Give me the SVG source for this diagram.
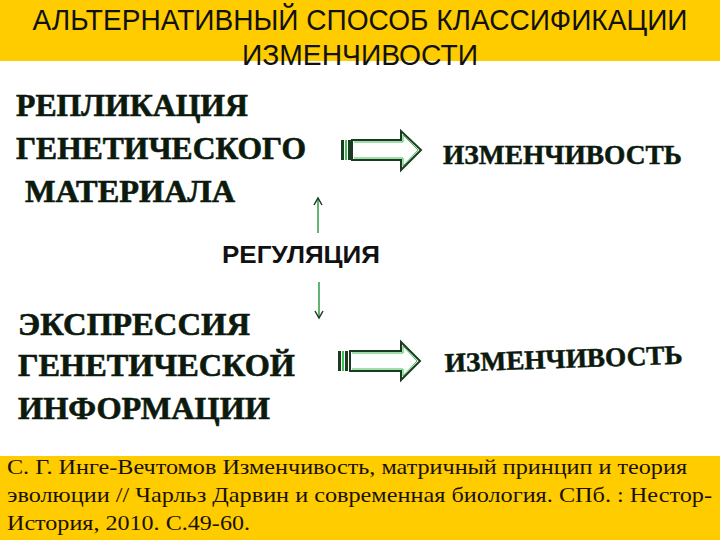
<svg xmlns="http://www.w3.org/2000/svg" width="720" height="540" viewBox="0 0 720 540">
<defs>
<style>
.title{font-family:"Liberation Sans Narrow","Liberation Sans",Arial,sans-serif;font-size:30px;fill:#111;}
.lbl{font-family:"Liberation Serif","Times New Roman",serif;font-weight:bold;font-size:31px;fill:#0c1a0e;stroke:#0c1a0e;stroke-width:0.6;}
.lbl2{font-family:"Liberation Serif","Times New Roman",serif;font-weight:bold;font-size:27px;fill:#0c1a0e;stroke:#0c1a0e;stroke-width:0.5;}
.reg{font-family:"Liberation Sans",Arial,sans-serif;font-weight:bold;font-size:24px;fill:#111;}
.cite{font-family:"Liberation Serif","Times New Roman",serif;font-size:22px;fill:#1a1200;}
.big{fill:#fff;stroke:#1c3a22;stroke-width:2;}
.bigg{fill:none;stroke:#3cc050;stroke-width:1;}
.vline{stroke:#2f9a45;stroke-width:1.5;fill:none;}
</style>
<marker id="ah" markerWidth="10" markerHeight="10" refX="8" refY="5" orient="auto" markerUnits="userSpaceOnUse">
<path d="M1,1 L8,5 L1,9" fill="none" stroke="#1c3a22" stroke-width="1.5"/>
</marker>
</defs>
<rect width="720" height="540" fill="#ffcc00"/>
<rect x="0" y="61" width="720" height="395" fill="#ffffff"/>
<g id="title">
<text class="title" x="360" y="30" text-anchor="middle" textLength="655" lengthAdjust="spacingAndGlyphs">АЛЬТЕРНАТИВНЫЙ СПОСОБ КЛАССИФИКАЦИИ</text>
<text class="title" x="360" y="65" text-anchor="middle" textLength="236" lengthAdjust="spacingAndGlyphs">ИЗМЕНЧИВОСТИ</text>
</g>
<g id="replication">
<text class="lbl" x="16" y="116" textLength="232" lengthAdjust="spacingAndGlyphs">РЕПЛИКАЦИЯ</text>
<text class="lbl" x="16" y="159" textLength="290" lengthAdjust="spacingAndGlyphs">ГЕНЕТИЧЕСКОГО</text>
<text class="lbl" x="25" y="202" textLength="210" lengthAdjust="spacingAndGlyphs">МАТЕРИАЛА</text>
</g>
<g id="variability1">
<text class="lbl2" x="443" y="164" textLength="239" lengthAdjust="spacingAndGlyphs">ИЗМЕНЧИВОСТЬ</text>
</g>
<g id="regulation">
<text class="reg" x="222" y="263" textLength="158" lengthAdjust="spacingAndGlyphs">РЕГУЛЯЦИЯ</text>
</g>
<g id="expression">
<text class="lbl" x="18" y="335" textLength="232" lengthAdjust="spacingAndGlyphs">ЭКСПРЕССИЯ</text>
<text class="lbl" x="18" y="376" textLength="277" lengthAdjust="spacingAndGlyphs">ГЕНЕТИЧЕСКОЙ</text>
<text class="lbl" x="18" y="419" textLength="252" lengthAdjust="spacingAndGlyphs">ИНФОРМАЦИИ</text>
</g>
<g id="variability2">
<text class="lbl2" x="445" y="372" textLength="238" lengthAdjust="spacingAndGlyphs" transform="rotate(-2 445 372)">ИЗМЕНЧИВОСТЬ</text>
</g>
<g id="connectors">
<g id="arrow1">
<path class="big" d="M352,140 L401,140 L401,131 L421,150 L401,170 L401,160 L352,160 Z"/>
<path class="bigg" d="M354,142 L403,142 L403,135 L418,150 L403,166 L403,158 L354,158"/>
<rect x="341" y="140" width="3" height="20" fill="#1c3a22"/>
<rect x="345" y="140" width="2" height="20" fill="#3cc050"/>
<rect x="348" y="140" width="3" height="20" fill="#1c3a22"/>
</g>
<g id="arrow2">
<path class="big" d="M350,351 L401,351 L401,342 L420,361 L401,380 L401,371 L350,371 Z"/>
<path class="bigg" d="M352,353 L403,353 L403,346 L417,361 L403,376 L403,369 L352,369"/>
<rect x="338" y="351" width="3" height="20" fill="#1c3a22"/>
<rect x="342" y="351" width="2" height="20" fill="#3cc050"/>
<rect x="345" y="351" width="3" height="20" fill="#1c3a22"/>
</g>
<line class="vline" x1="318" y1="233" x2="318" y2="198" marker-end="url(#ah)"/>
<line class="vline" x1="319" y1="282" x2="319" y2="318" marker-end="url(#ah)"/>
</g>
<g id="citation">
<text class="cite" x="7" y="474" textLength="680" lengthAdjust="spacingAndGlyphs">С. Г. Инге-Вечтомов Изменчивость, матричный принцип и теория</text>
<text class="cite" x="7" y="502" textLength="705" lengthAdjust="spacingAndGlyphs">эволюции // Чарльз Дарвин и современная биология. СПб. : Нестор-</text>
<text class="cite" x="7" y="530" textLength="243" lengthAdjust="spacingAndGlyphs">История, 2010. С.49-60.</text>
</g>
</svg>
